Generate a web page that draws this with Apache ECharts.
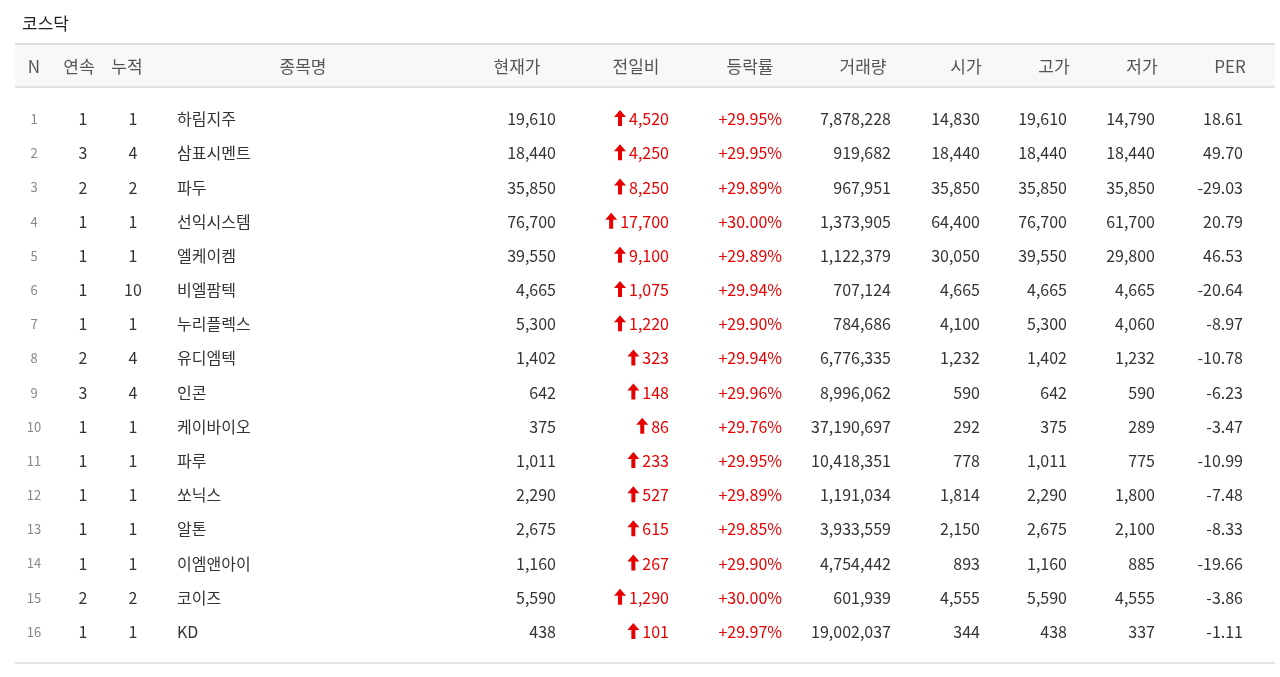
<!DOCTYPE html>
<html><head><meta charset="utf-8">
<script src="https://cdn.jsdelivr.net/npm/echarts@6/dist/echarts.min.js"></script>
<style>html,body{margin:0;padding:0;background:#fff}#c{width:1280px;height:677px}</style>
</head><body><div id="c"></div>
<script>
const title = '코스닥';
const headers = ['N','연속','누적','종목명','현재가','전일비','등락률','거래량','시가','고가','저가','PER'];
const streak = [1,3,2,1,1,1,1,2,3,1,1,1,1,1,2,1];
const cumul = [1,4,2,1,1,10,1,4,4,1,1,1,1,1,2,1];
const names = ['하림지주','삼표시멘트','파두','선익시스템','엘케이켐','비엘팜텍','누리플렉스','유디엠텍','인콘','케이바이오','파루','쏘닉스','알톤','이엠앤아이','코이즈','KD'];
const price = ['19,610','18,440','35,850','76,700','39,550','4,665','5,300','1,402','642','375','1,011','2,290','2,675','1,160','5,590','438'];
const change = ['4,520','4,250','8,250','17,700','9,100','1,075','1,220','323','148','86','233','527','615','267','1,290','101'];
const rate = ['+29.95%','+29.95%','+29.89%','+30.00%','+29.89%','+29.94%','+29.90%','+29.94%','+29.96%','+29.76%','+29.95%','+29.89%','+29.85%','+29.90%','+30.00%','+29.97%'];
const volume = ['7,878,228','919,682','967,951','1,373,905','1,122,379','707,124','784,686','6,776,335','8,996,062','37,190,697','10,418,351','1,191,034','3,933,559','4,754,442','601,939','19,002,037'];
const openP = ['14,830','18,440','35,850','64,400','30,050','4,665','4,100','1,232','590','292','778','1,814','2,150','893','4,555','344'];
const highP = ['19,610','18,440','35,850','76,700','39,550','4,665','5,300','1,402','642','375','1,011','2,290','2,675','1,160','5,590','438'];
const lowP = ['14,790','18,440','35,850','61,700','29,800','4,665','4,060','1,232','590','289','775','1,800','2,100','885','4,555','337'];
const per = ['18.61','49.70','-29.03','20.79','46.53','-20.64','-8.97','-10.78','-6.23','-3.47','-10.99','-7.48','-8.33','-19.66','-3.86','-1.11'];

const rowIdx = names.map((_, i) => String(i + 1));
const columns = [rowIdx, streak, cumul, names, price, change, rate, volume, openP, highP, lowP, per];
const colX = [34, 83, 133, 177, 556, 669, 782, 891, 980, 1067, 1155, 1243];
const colAlign = ['center','center','center','left','right','right','right','right','right','right','right','right'];
const headX = [34, 79, 127, 303, 517, 636, 750, 863, 966, 1054, 1142, 1230];
const FONT = '"Noto Sans CJK KR", "Noto Sans", sans-serif';

const data = [];
for (let r = 0; r < names.length; r++) for (let c = 0; c < columns.length; c++) data.push([c, r]);

const ctx = document.createElement('canvas').getContext('2d');
ctx.font = '16px ' + FONT;

const chart = echarts.init(document.getElementById('c'));
chart.setOption({
  animation: false,
  grid: {left: 0, right: 0, top: 102, height: 547},
  xAxis: {type: 'value', min: 0, max: 1280, show: false},
  yAxis: {type: 'category', data: rowIdx, inverse: true, show: false},
  graphic: [
    {type: 'text', left: 22, top: 15, style: {text: title, font: '17px ' + FONT, fill: '#222'}},
    {type: 'rect', shape: {x: 15, y: 44, width: 1260, height: 43}, style: {fill: '#f8f8f8'}},
    {type: 'rect', shape: {x: 15, y: 43, width: 1260, height: 2}, style: {fill: '#dddddd'}},
    {type: 'rect', shape: {x: 15, y: 86, width: 1260, height: 2}, style: {fill: '#e2e2e2'}},
    {type: 'rect', shape: {x: 15, y: 662, width: 1260, height: 2}, style: {fill: '#e4e4e4'}}
  ].concat(headers.map((h, i) => ({
    type: 'text', x: headX[i], y: 67,
    style: {text: h, font: '17px ' + FONT, fill: '#555', align: 'center', verticalAlign: 'middle'}
  }))),
  series: [{
    type: 'custom',
    coordinateSystem: 'cartesian2d',
    data: data,
    renderItem: function (params, api) {
      const c = api.value(0), r = api.value(1);
      const p = api.coord([colX[c], r]);
      const txt = String(columns[c][r]);
      const red = (c === 5 || c === 6);
      const isN = c === 0;
      const children = [{
        type: 'text',
        style: {
          text: txt, x: p[0], y: p[1],
          font: (isN ? '13px ' : '16px ') + FONT,
          fill: isN ? '#888' : (red ? '#e60000' : '#333'),
          align: colAlign[c], verticalAlign: 'middle'
        }
      }];
      if (c === 5) {
        const w = ctx.measureText(txt).width;
        const ax = p[0] - w - 9, ay = p[1] - 9;
        children.push({
          type: 'polygon',
          shape: {points: [[ax, ay], [ax + 6, ay + 7], [ax + 2, ay + 7], [ax + 2, ay + 16], [ax - 2, ay + 16], [ax - 2, ay + 7], [ax - 6, ay + 7]]},
          style: {fill: '#e60000'}
        });
      }
      return {type: 'group', children: children};
    }
  }]
});
</script></body></html>
